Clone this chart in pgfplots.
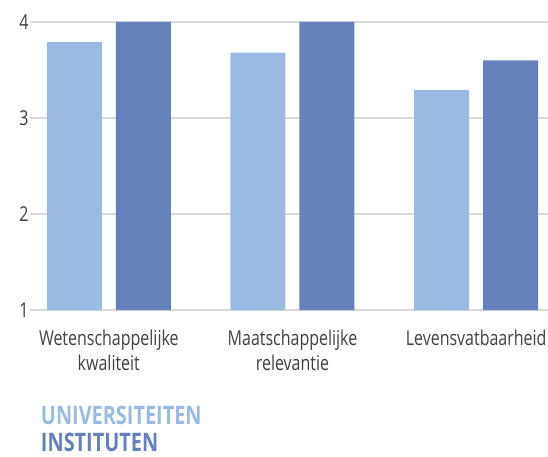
\documentclass[border=0pt]{standalone}
\usepackage{pgfplots}
\pgfplotsset{compat=1.18}
\usepackage{fontspec}
\setmainfont{Open Sans}[FakeStretch=0.78]
\definecolor{lightb}{HTML}{9BBAE2}
\definecolor{darkb}{HTML}{6680BC}
\definecolor{txt}{HTML}{404040}
\definecolor{gridc}{HTML}{D9D9D9}
\begin{document}
\begin{tikzpicture}
\useasboundingbox (-30bp,-147bp) rectangle (518bp,310bp);
\begin{axis}[
 at={(0,0)}, anchor=south west,
 width=518bp, height=288bp, scale only axis,
 xmin=-0.429, xmax=2.391, ymin=1, ymax=4,
 ybar=14bp, bar width=55bp,
 axis line style={draw=none},
 major tick length=0pt,
 ytick={1,2,3,4},
 xtick={0,1,2},
 xticklabels={{Wetenschappelijke\\kwaliteit},{Maatschappelijke\\relevantie},Levensvatbaarheid},
 xticklabel style={align=center, text=txt, font=\fontsize{20.5bp}{25bp}\selectfont, yshift=-16bp},
 yticklabel style={text=txt, font=\fontsize{20.5bp}{25bp}\selectfont, xshift=2bp},
 ymajorgrids, grid style={gridc, line width=1.5bp},
 /pgf/number format/assume math mode=true,
 clip=false,
 legend image code/.code={},
 legend cell align=left,
 legend style={at={(0.017,-0.325)}, anchor=north west, draw=none, fill=none,
   font=\bfseries\fontsize{25.5bp}{28bp}\selectfont, row sep=3bp, inner sep=0pt},
]
\addplot[fill=lightb, draw=none] coordinates {(0,3.79) (1,3.68) (2,3.29)};
\addlegendentry{\textcolor{lightb}{UNIVERSITEITEN}}
\addplot[fill=darkb, draw=none] coordinates {(0,4.0) (1,4.0) (2,3.60)};
\addlegendentry{\textcolor{darkb}{INSTITUTEN}}
\end{axis}
\end{tikzpicture}
\end{document}
